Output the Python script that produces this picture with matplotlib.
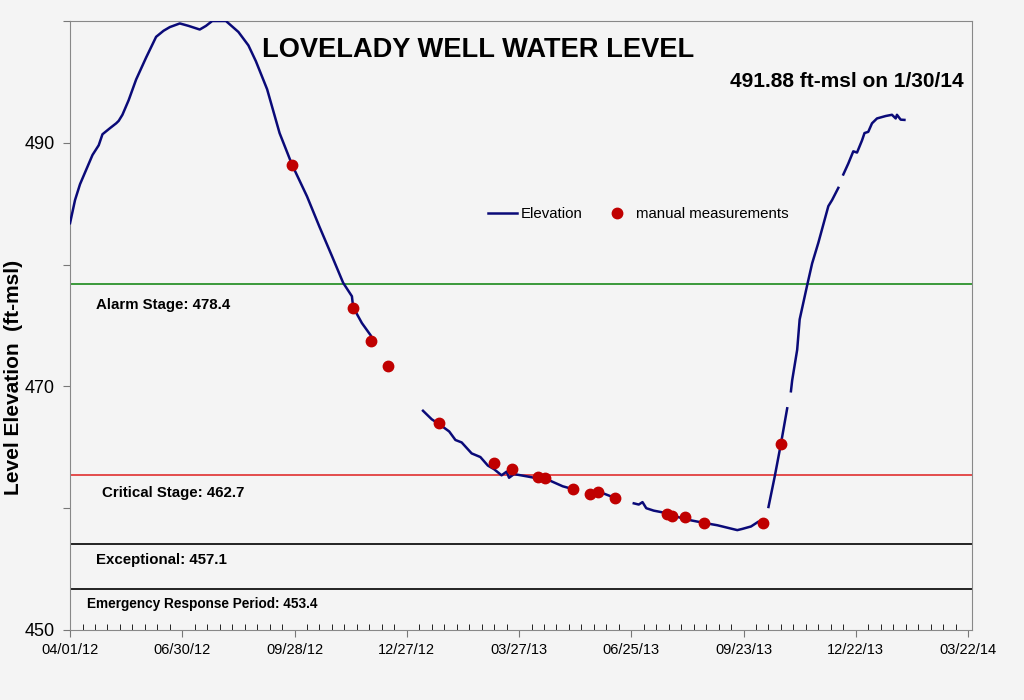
import numpy as np
import pandas as pd
import matplotlib.pyplot as plt
import matplotlib.dates as mdates
import matplotlib.transforms as mtrans

plt.rcParams["font.family"] = ["Liberation Sans", "DejaVu Sans"]

# Continuous well record (nan = gap in the logger data)
elev_dates = [
    "2012-04-01", "2012-04-05", "2012-04-09", "2012-04-14", "2012-04-19", "2012-04-24",
    "2012-04-27", "2012-05-03", "2012-05-08", "2012-05-10", "2012-05-13", "2012-05-18",
    "2012-05-24", "2012-06-01", "2012-06-09", "2012-06-15", "2012-06-20", "2012-06-28",
    "2012-07-05", "2012-07-14", "2012-07-19", "2012-07-24", "2012-08-04", "2012-08-14",
    "2012-08-22", "2012-08-28", "2012-09-06", "2012-09-16", "2012-09-26", "2012-10-08",
    "2012-10-18", "2012-10-28", "2012-11-06", "2012-11-13", "2012-11-14", "2012-11-21",
    "2012-11-28", "2012-11-30",
    "2012-12-15",
    "2013-01-09", "2013-01-12", "2013-01-16", "2013-01-22", "2013-01-30", "2013-02-04",
    "2013-02-09", "2013-02-17", "2013-02-24", "2013-03-02", "2013-03-07", "2013-03-13",
    "2013-03-17", "2013-03-19", "2013-03-23", "2013-04-03", "2013-04-08", "2013-04-12",
    "2013-04-20", "2013-05-01", "2013-05-08",
    "2013-05-20",
    "2013-05-29", "2013-06-03", "2013-06-08", "2013-06-11",
    "2013-06-20",
    "2013-06-27", "2013-07-01", "2013-07-04", "2013-07-07", "2013-07-13", "2013-07-23",
    "2013-07-28", "2013-08-04", "2013-08-12", "2013-08-22", "2013-09-02", "2013-09-10",
    "2013-09-18", "2013-09-22", "2013-09-29", "2013-10-05", "2013-10-09",
    "2013-10-11",
    "2013-10-13", "2013-10-18", "2013-10-23", "2013-10-28",
    "2013-10-29",
    "2013-10-31", "2013-11-01", "2013-11-05", "2013-11-07", "2013-11-13", "2013-11-17",
    "2013-11-22", "2013-11-30", "2013-12-03", "2013-12-08",
    "2013-12-10",
    "2013-12-12", "2013-12-16", "2013-12-20", "2013-12-23", "2013-12-27", "2013-12-29",
    "2014-01-01", "2014-01-04", "2014-01-08", "2014-01-15", "2014-01-20", "2014-01-23",
    "2014-01-24", "2014-01-27", "2014-01-30",
]
elev_values = [
    483.4, 485.3, 486.6, 487.8, 489.0, 489.8,
    490.7, 491.2, 491.6, 491.8, 492.3, 493.5,
    495.2, 497.0, 498.7, 499.2, 499.5, 499.8,
    499.6, 499.3, 499.6, 500.0, 500.0, 499.1,
    498.0, 496.7, 494.4, 490.8, 488.2, 485.6,
    483.1, 480.7, 478.5, 477.4, 476.5, 475.2,
    474.2, 473.8,
    np.nan,
    468.0, 467.7, 467.3, 466.9, 466.3, 465.6,
    465.4, 464.5, 464.2, 463.5, 463.2, 462.7,
    463.0, 462.5, 462.8, 462.6, 462.5, 462.6,
    462.3, 461.8, 461.6,
    np.nan,
    461.3, 461.2, 461.0, 460.9,
    np.nan,
    460.4, 460.3, 460.5, 460.0, 459.8, 459.6,
    459.4, 459.2, 459.0, 458.8, 458.6, 458.4,
    458.2, 458.3, 458.5, 458.9, 458.8,
    np.nan,
    460.1, 462.6, 465.3, 468.2,
    np.nan,
    469.6, 470.5, 473.0, 475.5, 478.3, 480.1,
    481.8, 484.8, 485.3, 486.3,
    np.nan,
    487.4, 488.3, 489.3, 489.2, 490.2, 490.8,
    490.9, 491.6, 492.0, 492.2, 492.3, 492.0,
    492.3, 491.9, 491.88,
]

# Manual tape measurements
manual_dates = [
    "2012-09-26", "2012-11-14", "2012-11-28", "2012-12-12", "2013-01-22", "2013-03-07",
    "2013-03-21", "2013-04-11", "2013-04-17", "2013-05-09", "2013-05-23", "2013-05-29",
    "2013-06-12", "2013-07-24", "2013-07-28", "2013-08-07", "2013-08-22", "2013-10-09",
    "2013-10-23",
]
manual_values = [
    488.2, 476.4, 473.7, 471.7, 467.0, 463.7,
    463.2, 462.6, 462.5, 461.6, 461.2, 461.3,
    460.8, 459.5, 459.4, 459.3, 458.8, 458.8,
    465.3,
]

# Drought stages
stage_names = ["Alarm Stage: 478.4", "Critical Stage: 462.7", "Exceptional: 457.1",
               "Emergency Response Period: 453.4"]
stage_levels = [478.4, 462.7, 457.1, 453.4]
stage_colors = ["#1a8a1a", "#e03030", "black", "black"]

bg = "#f4f4f4"
fig = plt.figure(figsize=(10.24, 7), dpi=100)
fig.patch.set_facecolor(bg)
ax = fig.add_axes([0.0684, 0.1, 0.8806, 0.87])
ax.set_facecolor(bg)

ed = pd.to_datetime(elev_dates)
md = pd.to_datetime(manual_dates)

for lvl, col in zip(stage_levels, stage_colors):
    ax.axhline(lvl, color=col, lw=1.2, zorder=1)

ax.plot(ed, elev_values, color="#0a0a78", lw=1.8, zorder=3, label="Elevation")
ax.plot(md, manual_values, "o", color="#c00000", ms=7.5, ls="none", zorder=4,
        label="manual measurements")

# stage labels: x in axes fraction, y in data
trans = mtrans.blended_transform_factory(ax.transAxes, ax.transData)
label_x = [0.029, 0.035, 0.029, 0.019]
label_y = [476.7, 461.25, 455.75, 452.1]
label_size = [10.8, 10.8, 10.8, 9.8]
for name, lx, ly, fs in zip(stage_names, label_x, label_y, label_size):
    ax.text(lx, ly, name, transform=trans, fontsize=fs, fontweight="bold", va="center")

ax.set_xlim(pd.Timestamp("2012-04-01"), pd.Timestamp("2014-03-25"))
ax.set_ylim(450, 500)

start = pd.Timestamp("2012-04-01")
major = [start + pd.Timedelta(days=90 * i) for i in range(9)]
minor = [start + pd.Timedelta(days=10 * i) for i in range(73)]
ax.set_xticks(major)
ax.set_xticks(minor, minor=True)
ax.xaxis.set_major_formatter(mdates.DateFormatter("%m/%d/%y"))

ax.set_yticks(range(450, 501, 10))
ax.set_yticklabels(["450", "", "470", "", "490", ""])

ax.tick_params(axis="x", which="major", direction="out", length=5, labelsize=10.5, pad=4)
ax.tick_params(axis="x", which="minor", direction="in", length=4)
ax.tick_params(axis="y", direction="out", length=5, labelsize=13, pad=6)
ax.tick_params(colors="#777777", labelcolor="black")

for spine in ax.spines.values():
    spine.set_color("#888888")

ax.text(0.452, 0.952, "LOVELADY WELL WATER LEVEL", transform=ax.transAxes,
        fontsize=19.6, fontweight="bold", ha="center", va="center")
ax.text(0.991, 0.90, "491.88 ft-msl on 1/30/14", transform=ax.transAxes,
        fontsize=15, fontweight="bold", ha="right", va="center")

fig.text(0.013, 0.461, "Level Elevation  (ft-msl)", rotation=90, fontsize=15,
         fontweight="bold", ha="center", va="center")

ax.legend(loc="center", bbox_to_anchor=(0.630, 0.683), ncol=2, frameon=False,
          fontsize=10.8, handlelength=1.9, columnspacing=1.3, handletextpad=0.3)

plt.savefig("out.png", dpi=100, facecolor=bg)
